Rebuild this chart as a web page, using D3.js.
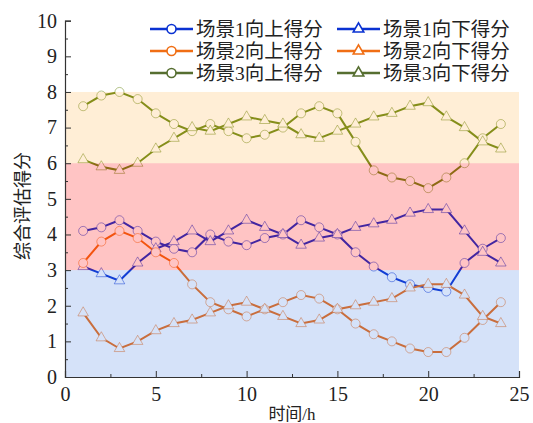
<!DOCTYPE html>
<html>
<head>
<meta charset="utf-8">
<script src="https://cdn.jsdelivr.net/npm/d3@7"></script>
<style>
  body { margin: 0; background: #fff; }
  text { font-family: "Liberation Serif", "Noto Sans CJK SC", serif; fill: #222; }
</style>
</head>
<body>
<div id="chart"></div>
<script>
// hours 1..24
const hours = d3.range(1, 25);
const xTicks = [0, 5, 10, 15, 20, 25];
const yTicks = [0, 1, 2, 3, 4, 5, 6, 7, 8, 9, 10];

const s1Up   = [4.1, 4.2, 4.4, 4.1, 3.8, 3.6, 3.5, 4.0, 3.8, 3.7, 3.9, 4.0, 4.4, 4.2, 4.0, 3.5, 3.1, 2.8, 2.6, 2.5, 2.4, 3.2, 3.6, 3.9];
const s1Down = [3.1, 2.9, 2.7, 3.2, 3.6, 3.8, 4.1, 3.8, 4.1, 4.4, 4.2, 4.0, 3.7, 3.9, 4.0, 4.2, 4.3, 4.4, 4.6, 4.7, 4.7, 4.1, 3.5, 3.2];
const s2Up   = [3.2, 3.8, 4.1, 3.9, 3.5, 3.2, 2.6, 2.1, 1.9, 1.7, 1.9, 2.1, 2.3, 2.2, 1.9, 1.5, 1.2, 1.0, 0.8, 0.7, 0.7, 1.1, 1.6, 2.1];
const s2Down = [1.8, 1.1, 0.8, 1.0, 1.3, 1.5, 1.6, 1.8, 2.0, 2.1, 1.9, 1.7, 1.5, 1.6, 1.9, 2.0, 2.1, 2.2, 2.5, 2.6, 2.6, 2.3, 1.7, 1.5];
const s3Up   = [7.6, 7.9, 8.0, 7.8, 7.4, 7.1, 6.9, 7.1, 6.9, 6.7, 6.8, 7.0, 7.4, 7.6, 7.4, 6.6, 5.8, 5.6, 5.5, 5.3, 5.6, 6.0, 6.7, 7.1];
const s3Down = [6.1, 5.9, 5.8, 6.0, 6.4, 6.7, 7.0, 6.9, 7.1, 7.3, 7.2, 7.1, 6.8, 6.7, 6.9, 7.1, 7.3, 7.4, 7.6, 7.7, 7.3, 7.0, 6.6, 6.4];

// level bands [from, to]
const bands = [
  { from: 0, to: 3, color: "#2d6ee0", alpha: 0.2 },
  { from: 3, to: 6, color: "#ff0000", alpha: 0.23 },
  { from: 6, to: 8, color: "#ffa01e", alpha: 0.18 }
];

const series = [
  { name: "场景1向上得分", values: s1Up,   color: "#0a32d2", key: "#0a32d2", shape: "circle" },
  { name: "场景1向下得分", values: s1Down, color: "#0a32d2", key: "#0a32d2", shape: "triangle" },
  { name: "场景2向上得分", values: s2Up,   color: "#f06e14", key: "#f06e14", shape: "circle" },
  { name: "场景2向下得分", values: s2Down, color: "#f06e14", key: "#f06e14", shape: "triangle" },
  { name: "场景3向上得分", values: s3Up,   color: "#6b8a1a", key: "#566e30", shape: "circle" },
  { name: "场景3向下得分", values: s3Down, color: "#6b8a1a", key: "#566e30", shape: "triangle" }
];

const W = 533, H = 423;
const plotLeft = 65, plotRight = 519, plotTop = 20.7, plotBottom = 377;

const svg = d3.select("#chart").append("svg")
  .attr("width", W)
  .attr("height", H);

const x = d3.scaleLinear().domain([0, 25]).range([plotLeft, plotRight]);
const y = d3.scaleLinear().domain([0, 10]).range([plotBottom, plotTop]);

const symbolOf = shape => shape === "circle"
  ? d3.symbol().type(d3.symbolCircle).size(64)
  : d3.symbol().type(d3.symbolTriangle).size(48);

// lines and markers
const line = d3.line().x((d, i) => x(hours[i])).y(d => y(d));
series.forEach(s => {
  svg.append("path")
    .datum(s.values)
    .attr("fill", "none")
    .attr("stroke", s.color)
    .attr("stroke-width", 2)
    .attr("d", line);
});
series.forEach(s => {
  svg.selectAll(null)
    .data(s.values)
    .enter()
    .append("path")
    .attr("d", symbolOf(s.shape))
    .attr("transform", (d, i) => "translate(" + x(hours[i]) + "," + y(d) + ")")
    .attr("fill", "#fff")
    .attr("stroke", s.color)
    .attr("stroke-opacity", 0.5)
    .attr("stroke-width", 1);
});

// translucent bands over the data
svg.selectAll("rect.band")
  .data(bands)
  .enter()
  .append("rect")
  .attr("class", "band")
  .attr("x", x(0))
  .attr("width", x(25) - x(0))
  .attr("y", d => y(d.to))
  .attr("height", d => y(d.from) - y(d.to))
  .attr("fill", d => d.color)
  .attr("fill-opacity", d => d.alpha);

// axes, ticks inward
const xAxis = svg.append("g")
  .attr("transform", "translate(0," + plotBottom + ")")
  .call(d3.axisBottom(x).tickValues(xTicks).tickSize(-6).tickPadding(14).tickFormat(d3.format("d")));
xAxis.selectAll(".tick")
  .filter(d => d === 0)
  .select("line").remove();
svg.append("g")
  .attr("transform", "translate(0," + plotBottom + ")")
  .call(d3.axisBottom(x).tickValues(d3.range(2.5, 25, 5)).tickSize(-3).tickFormat(""))
  .select(".domain").remove();

const yAxis = svg.append("g")
  .attr("transform", "translate(" + plotLeft + ",0)")
  .call(d3.axisLeft(y).tickValues(yTicks).tickSize(-6).tickPadding(8).tickFormat(d3.format("d")));
svg.append("g")
  .attr("transform", "translate(" + plotLeft + ",0)")
  .call(d3.axisLeft(y).tickValues(d3.range(0.5, 10, 1)).tickSize(-3).tickFormat(""))
  .select(".domain").remove();

svg.selectAll(".domain").attr("stroke", "#333").attr("stroke-width", 1.2);
svg.selectAll(".tick line").attr("stroke", "#333").attr("stroke-width", 1);
svg.selectAll(".tick text")
  .style("font-family", "'Liberation Serif', serif")
  .style("font-size", "20px")
  .attr("fill", "#222");
xAxis.selectAll(".tick text").attr("dy", "0.5em");

// axis titles
svg.append("text")
  .attr("x", (plotLeft + plotRight) / 2)
  .attr("y", 420)
  .attr("text-anchor", "middle")
  .style("font-size", "17px")
  .text("时间/h");

svg.append("text")
  .attr("transform", "translate(23," + 206 + ") rotate(-90)")
  .attr("text-anchor", "middle")
  .attr("dominant-baseline", "central")
  .style("font-size", "18px")
  .attr("fill", "#555")
  .text("综合评估得分");

// legend, two columns
const legend = svg.append("g");
series.forEach((s, i) => {
  const col = i % 2, row = Math.floor(i / 2);
  const lx = col === 0 ? 150 : 337;
  const ly = 29 + row * 22;
  const g = legend.append("g").attr("transform", "translate(" + lx + "," + ly + ")");
  g.append("line")
    .attr("x1", 0).attr("x2", 43)
    .attr("stroke", s.key)
    .attr("stroke-width", 2.5);
  g.append("path")
    .attr("d", symbolOf(s.shape))
    .attr("transform", "translate(21.5,0)")
    .attr("fill", "#fff")
    .attr("stroke", s.key)
    .attr("stroke-width", 1.6);
  g.append("text")
    .attr("x", 46)
    .attr("dominant-baseline", "central")
    .style("font-size", "19.5px")
    .text(s.name);
});
</script>
</body>
</html>
